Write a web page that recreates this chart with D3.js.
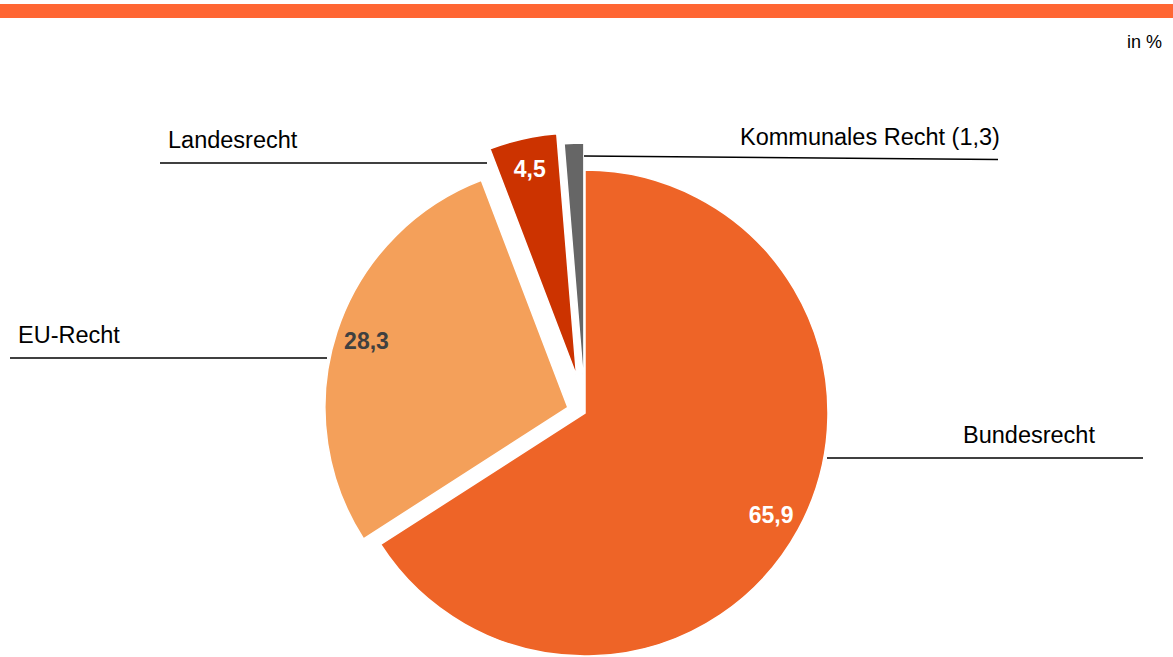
<!DOCTYPE html>
<html><head><meta charset="utf-8">
<script src="https://cdn.jsdelivr.net/npm/d3@7"></script>
<style>body{margin:0;background:#fff;}svg{display:block;font-family:"Liberation Sans",Arial,sans-serif;}</style>
</head><body>
<svg id="c" width="1173" height="657"></svg>
<script>
// data
const categories = ["Bundesrecht", "EU-Recht", "Landesrecht", "Kommunales Recht"];
const values = [65.9, 28.3, 4.5, 1.3];
const valueLabels = ["65,9", "28,3", "4,5", ""];
const categoryLabels = ["Bundesrecht", "EU-Recht", "Landesrecht", "Kommunales Recht (1,3)"];
const unitLabel = "in %";

// style
const colors = ["#EE6427", "#F4A05A", "#CC3300", "#666666"];
const valueColors = ["#ffffff", "#404040", "#ffffff", "#ffffff"];
const explode = [0, 18, 38, 27];
const W = 1173, H = 657, cx = 585, cy = 413, R = 243, labelR = 212;
// label layout: line from x1 to x2 at y, text at tx, ty
const labelLayout = [
  {x1: 827, x2: 1143, y1: 458, y2: 458, tx: 963, ty: 443},
  {x1: 10, x2: 327, y1: 358, y2: 358, tx: 18, ty: 343},
  {x1: 160, x2: 487, y1: 163, y2: 163, tx: 168, ty: 148},
  {x1: 584, x2: 998, y1: 156, y2: 159.5, tx: 740, ty: 145}
];

const svg = d3.select("#c");
svg.append("rect").attr("x", 0).attr("y", 4).attr("width", W).attr("height", 14).attr("fill", "#FF6633");
svg.append("text").attr("x", 1162).attr("y", 48).attr("text-anchor", "end")
  .attr("font-size", 18).attr("fill", "#000").text(unitLabel);

const pie = d3.pie().sort(null).startAngle(0).endAngle(2 * Math.PI);
const arcs = pie(values);
const arc = d3.arc().innerRadius(0).outerRadius(R);
const labelArc = d3.arc().innerRadius(labelR).outerRadius(labelR);

const g = svg.append("g").attr("transform", `translate(${cx},${cy})`);
const slices = g.selectAll("g.slice").data(arcs).join("g").attr("class", "slice")
  .attr("transform", (d, i) => {
    const a = (d.startAngle + d.endAngle) / 2;
    return `translate(${explode[i] * Math.sin(a)},${-explode[i] * Math.cos(a)})`;
  });
slices.append("path").attr("d", arc).attr("fill", (d, i) => colors[i])
  .attr("stroke", "#fff").attr("stroke-width", 1.5).attr("stroke-linejoin", "miter");
slices.append("text")
  .attr("transform", d => `translate(${labelArc.centroid(d)})`)
  .attr("text-anchor", "middle").attr("dy", "0.35em")
  .attr("font-size", 23).attr("font-weight", "bold")
  .attr("fill", (d, i) => valueColors[i])
  .text((d, i) => valueLabels[i]);

const lab = svg.append("g");
labelLayout.forEach((L, i) => {
  lab.append("line").attr("x1", L.x1).attr("x2", L.x2).attr("y1", L.y1).attr("y2", L.y2)
    .attr("stroke", "#000").attr("stroke-width", 1.5);
  lab.append("text").attr("x", L.tx).attr("y", L.ty).attr("font-size", 23.5).attr("fill", "#000")
    .text(categoryLabels[i]);
});
</script>
</body></html>
